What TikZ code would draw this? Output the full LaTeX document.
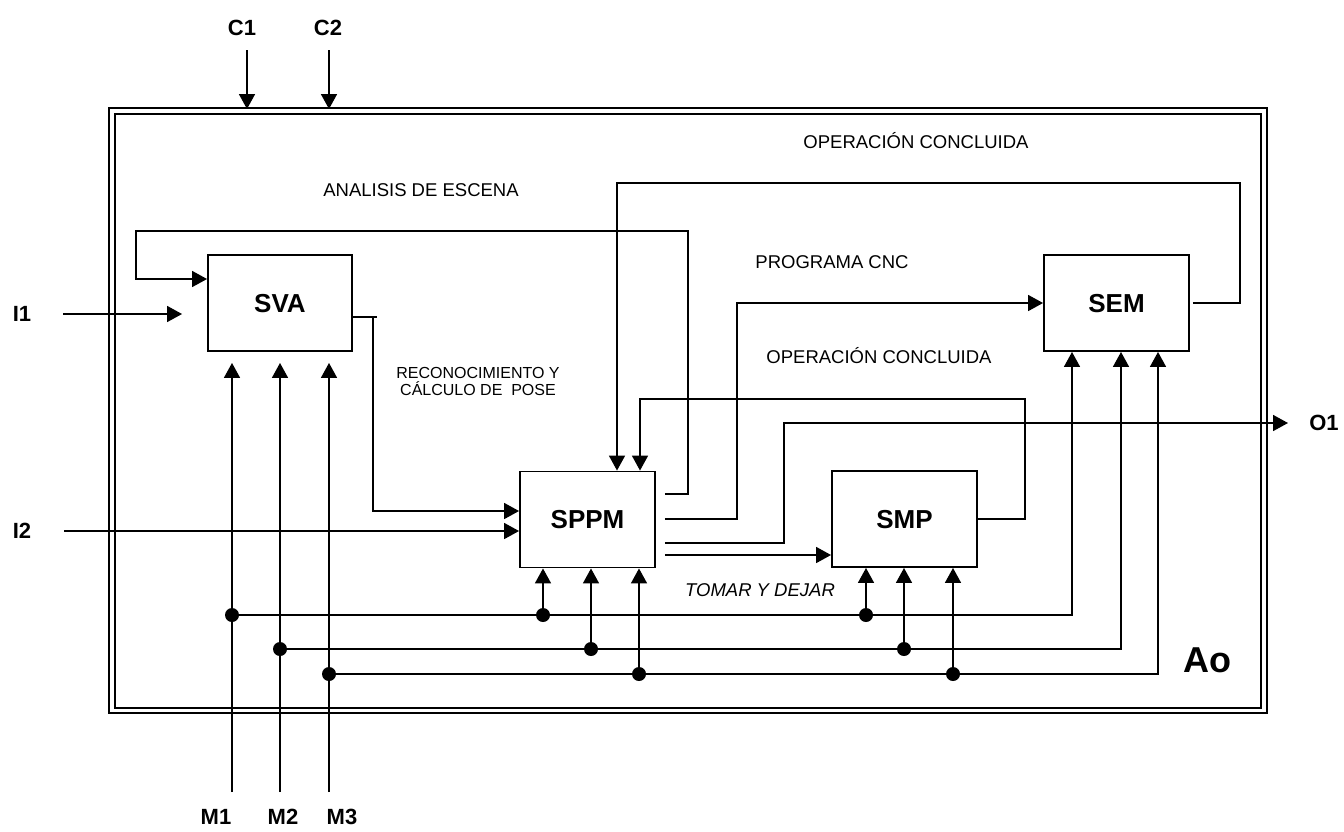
\documentclass[tikz,border=0pt]{standalone}
\usepackage{fontspec}
\setmainfont{Liberation Sans}
\usetikzlibrary{arrows.meta,calc}
\begin{document}
\begin{tikzpicture}[x=1pt,y=-1pt,
  ln/.style={line width=1.7pt},
  arr/.style={ln,-{Triangle[length=15pt,width=16pt]}},
  blk/.style={draw,line width=1.9pt,inner sep=0pt,minimum height=96pt,
    font=\fontsize{26}{28}\selectfont\bfseries,text height=18.6pt,text depth=0pt},
  lbl/.style={inner sep=0pt,font=\fontsize{22}{24}\selectfont\bfseries,text height=15.8pt,text depth=0pt},
  txt/.style={inner sep=0pt,font=\fontsize{18.5}{20}\selectfont,text height=13.2pt,text depth=0pt},
  dot/.style={circle,fill,inner sep=0pt,minimum size=14pt}
]
\useasboundingbox (0,0) rectangle (1344,831);
% frame
\draw[line width=2.2pt] (109,108) rectangle (1267,713);
\draw[line width=1.8pt] (115,114) rectangle (1261,708);
% blocks
\node[blk,minimum width=144pt] (SVA) at (280,303) {SVA};
\node[blk,minimum width=135pt] (SPPM) at (587.5,519.5) {SPPM};
\node[blk,minimum width=145pt] (SMP) at (904.5,519) {SMP};
\node[blk,minimum width=145pt] (SEM) at (1116.5,303) {SEM};
% outside labels
\node[lbl] (C1) at (242,28) {C1};
\node[lbl] (C2) at (328,28) {C2};
\node[lbl] (I1) at (22,314) {I1};
\node[lbl] (I2) at (22,531) {I2};
\node[lbl] (O1) at (1324,423) {O1};
\node[lbl] (M1) at (216,817) {M1};
\node[lbl] (M2) at (283,817) {M2};
\node[lbl] (M3) at (342,817) {M3};
\node[inner sep=0pt,font=\fontsize{36}{40}\selectfont\bfseries,text height=25.8pt,text depth=0pt] (Ao) at (1207,660) {Ao};
% inner texts
\node[txt] (t1) at (916,142) {OPERACIÓN CONCLUIDA};
\node[txt] (t2) at (421,190) {ANALISIS DE ESCENA};
\node[txt] (t3) at (832,262) {PROGRAMA CNC};
\node[txt] (t4) at (879,357) {OPERACIÓN CONCLUIDA};
\node[txt,font=\fontsize{18.5}{20}\selectfont\itshape] (t5) at (760,590) {TOMAR Y DEJAR};
\node[inner sep=0pt,align=center,font=\fontsize{16}{17}\selectfont] (t6) at (478,381) {RECONOCIMIENTO Y\\CÁLCULO DE\ \ POSE};
% free ends
\coordinate (c1s) at (247,50);
\coordinate (c2s) at (329,50);
\coordinate (c1e) at (247,109);
\coordinate (c2e) at (329,109);
\coordinate (i1s) at (63,314);
\coordinate (i2s) at (64,531);
\coordinate (o1e) at (1288,423);
\coordinate (m1) at (232,792);
\coordinate (m2) at (280,792);
\coordinate (m3) at (329,792);
% control arrows
\draw[arr] (c1s) -- (c1e);
\draw[arr] (c2s) -- (c2e);
% inputs
\draw[arr,shorten >=25pt] (i1s) -- (SVA.west |- i1s);
\draw[arr] (i2s) -- (SPPM.west |- i2s);
% SVA -> SPPM
\draw[ln] (SVA.east |- 0,317) -- (377,317);
\draw[arr] (373,317) -- (373,511) -- (SPPM.west |- 0,511);
% SPPM outputs
\draw[arr,shorten <=9pt] (SPPM.east |- 0,494) -| (688,231) -| (136,279) -- (SVA.west |- 0,279);
\draw[arr,shorten <=9pt] (SPPM.east |- 0,519) -| (737,303) -- (SEM.west);
\draw[arr,shorten <=9pt] (SPPM.east |- 0,543) -| (784,423) -- (o1e);
\draw[arr,shorten <=9pt] (SPPM.east |- 0,555) -- (SMP.west |- 0,555);
% feedbacks
\draw[arr,shorten <=3pt] (SEM.east) -| (1240,183) -| (SPPM.north -| 617,0);
\draw[arr] (SMP.east) -| (1025,399) -| (SPPM.north -| 640,0);
% mechanisms
\draw[arr,shorten >=11pt] (m1) -- (SVA.south -| m1);
\draw[arr,shorten >=11pt] (m2) -- (SVA.south -| m2);
\draw[arr,shorten >=11pt] (m3) -- (SVA.south -| m3);
\node[dot] (d1a) at (232,615) {};
\node[dot] (d1b) at (543,615) {};
\node[dot] (d1c) at (866,615) {};
\node[dot] (d2a) at (280,649) {};
\node[dot] (d2b) at (591,649) {};
\node[dot] (d2c) at (904,649) {};
\node[dot] (d3a) at (329,674) {};
\node[dot] (d3b) at (639,674) {};
\node[dot] (d3c) at (953,674) {};
\draw[arr] (d1a.center) -- (1072,615) -- (SEM.south -| 1072,0);
\draw[arr] (d2a.center) -- (1121,649) -- (SEM.south -| 1121,0);
\draw[arr] (d3a.center) -- (1158,674) -- (SEM.south -| 1158,0);
\draw[arr] (d1b.center) -- (SPPM.south -| d1b);
\draw[arr] (d2b.center) -- (SPPM.south -| d2b);
\draw[arr] (d3b.center) -- (SPPM.south -| d3b);
\draw[arr] (d1c.center) -- (SMP.south -| d1c);
\draw[arr] (d2c.center) -- (SMP.south -| d2c);
\draw[arr] (d3c.center) -- (SMP.south -| d3c);
\end{tikzpicture}
\end{document}
